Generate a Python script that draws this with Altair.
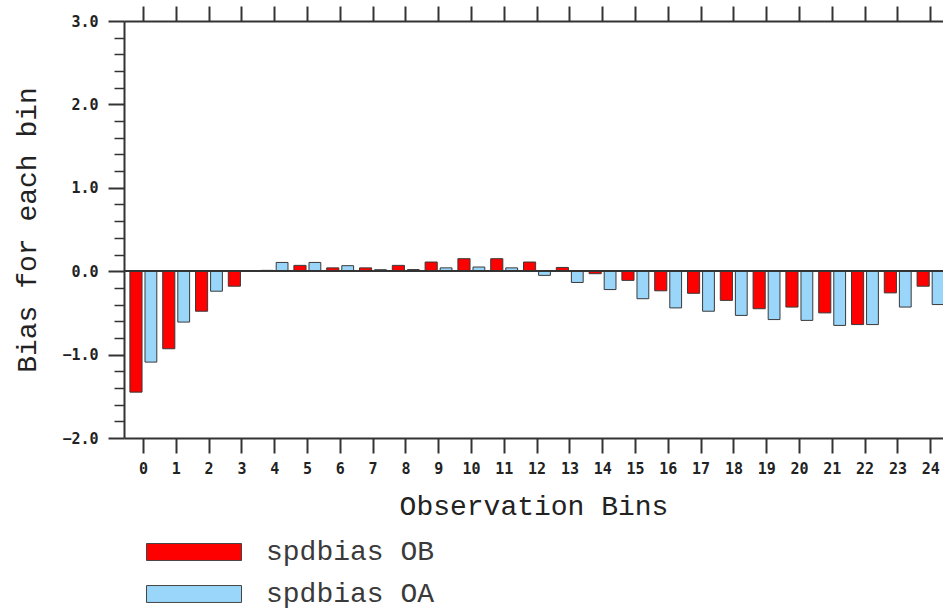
import altair as alt
import pandas as pd

bins = list(range(25))
ob = [-1.45, -0.93, -0.48, -0.18, 0.01, 0.07, 0.04, 0.04, 0.07, 0.11, 0.15, 0.15, 0.11,
      0.045, -0.03, -0.11, -0.235, -0.265, -0.35, -0.45, -0.43, -0.50, -0.64, -0.26, -0.18]
oa = [-1.09, -0.61, -0.24, 0.0, 0.105, 0.105, 0.066, 0.018, 0.02, 0.04, 0.05, 0.04, -0.05,
      -0.135, -0.22, -0.33, -0.44, -0.48, -0.53, -0.58, -0.59, -0.65, -0.64, -0.43, -0.40]
series_names = ["spdbias OB", "spdbias OA"]
colors = ["#ff0000", "#99d6fa"]
y_major = [-2, -1, 0, 1, 2, 3]
y_minor = [-1.8, -1.6, -1.4, -1.2, -0.8, -0.6, -0.4, -0.2, 0.2, 0.4, 0.6, 0.8,
           1.2, 1.4, 1.6, 1.8, 2.2, 2.4, 2.6, 2.8]

df = pd.DataFrame({
    "bin": bins * 2,
    "series": [series_names[0]] * len(bins) + [series_names[1]] * len(bins),
    "value": ob + oa,
})

xscale = alt.Scale(domain=[-0.58, 24.39], nice=False, zero=False)
yscale = alt.Scale(domain=[-2, 3], nice=False, zero=False)

TITLE_FONT = "Liberation Mono"
LABEL_FONT = "DejaVu Sans Mono"

base = alt.Chart(df).transform_calculate(
    x0="datum.bin + (datum.series == 'spdbias OB' ? -0.40 : 0.06)",
    x1="datum.bin + (datum.series == 'spdbias OB' ? -0.03 : 0.42)",
)

bars = base.mark_rect(clip=True, stroke="#3a3a3a", strokeWidth=1).encode(
    x=alt.X("x0:Q", scale=xscale, axis=alt.Axis(
        orient="bottom", values=bins, format="d", tickSize=15, labelPadding=8,
        title="Observation Bins", titlePadding=16)),
    x2="x1:Q",
    y=alt.Y("value:Q", scale=yscale, axis=alt.Axis(
        orient="left", values=y_major, format=".1f", tickSize=16, labelPadding=10,
        title="Bias for each bin", titlePadding=20)),
    y2=alt.datum(0),
    color=alt.Color("series:N", scale=alt.Scale(domain=series_names, range=colors),
                    legend=alt.Legend(
                        title=None, orient="none", legendX=56, legendY=517,
                        direction="vertical",
                        symbolType="M-5,-0.89H5V0.89H-5Z", symbolSize=361,
                        symbolStrokeColor="#444444", symbolStrokeWidth=1,
                        symbolOpacity=1,
                        labelFont=TITLE_FONT, labelFontSize=28, labelColor="#3a3a3a",
                        labelLimit=0, labelOffset=58, rowPadding=14, padding=0)),
)

zero = alt.Chart(df).mark_rule(color="#333333", strokeWidth=1.5).encode(
    y=alt.YDatum(0, axis=None, scale=yscale)
)

ticks = alt.Chart(df).mark_point(opacity=0).encode(
    x=alt.X("bin:Q", scale=xscale, axis=alt.Axis(
        orient="top", values=bins, labels=False, tickSize=15, title=None)),
    y=alt.Y("value:Q", scale=yscale, axis=alt.Axis(
        orient="left", values=y_minor, labels=False, tickSize=10, domain=False,
        tickWidth=1.5, title=None)),
)

chart = alt.layer(bars, zero, ticks).resolve_axis(
    x="independent", y="independent"
).properties(
    width=819, height=417,
    autosize=alt.AutoSizeParams(type="none"),
    padding={"left": 124, "top": 21, "right": 0, "bottom": 174},
).configure_view(stroke=None).configure_axis(
    grid=False, domainColor="#333333", domainWidth=2, tickColor="#333333", tickWidth=2,
    labelFont=LABEL_FONT, labelFontSize=15, labelFontWeight="bold", labelColor="#222222",
    titleFont=TITLE_FONT, titleFontSize=28, titleFontWeight="normal", titleColor="#222222",
)

chart.save("out.html", embed_options={"renderer": "svg", "actions": False})
